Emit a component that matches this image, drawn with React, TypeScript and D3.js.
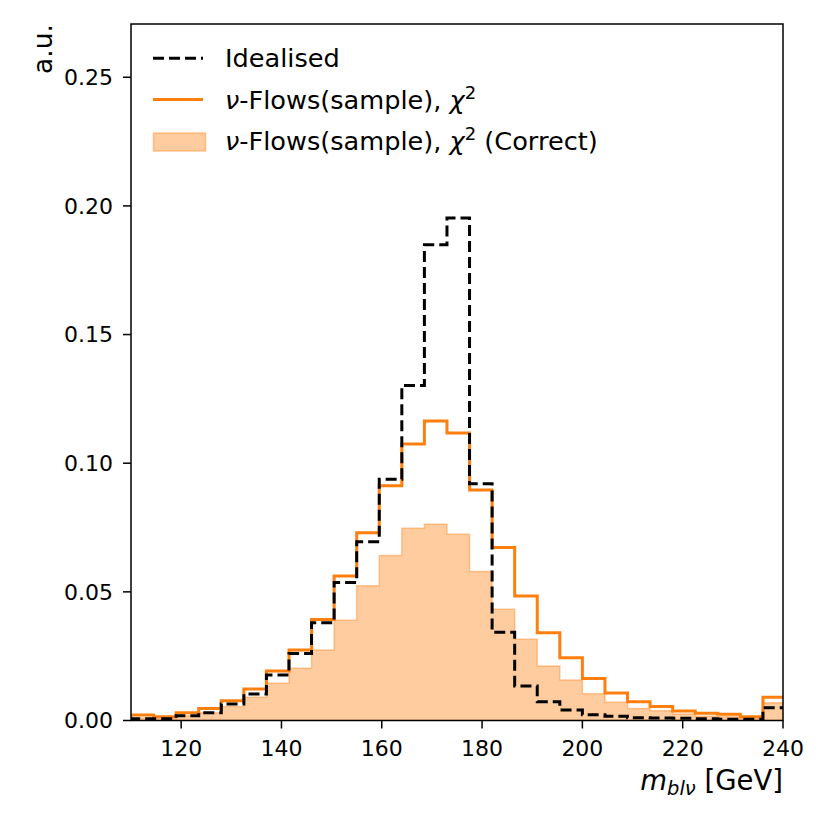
import React from "react";
import * as d3 from "d3";

const binStart = 110;
const binWidth = 4.5;
const idealised = [
  0.0007, 0.0007, 0.0018, 0.003, 0.0064, 0.0103, 0.0177, 0.026, 0.038, 0.0536,
  0.0695, 0.0938, 0.1302, 0.1849, 0.1953, 0.092, 0.0343, 0.0134, 0.0073, 0.0041,
  0.0022, 0.0017, 0.0011, 0.001, 0.0009, 0.0007, 0.0005, 0.0005, 0.005,
];
const flowsChi2 = [
  0.0021, 0.0015, 0.003, 0.0047, 0.0077, 0.0122, 0.0192, 0.0274, 0.0393, 0.0562,
  0.073, 0.0912, 0.1075, 0.1164, 0.1117, 0.0896, 0.0672, 0.0484, 0.0341, 0.0244,
  0.0163, 0.0107, 0.0073, 0.0054, 0.0037, 0.0028, 0.0024, 0.0015, 0.009,
];
const flowsChi2Correct = [
  0.001, 0.0008, 0.0018, 0.003, 0.0054, 0.009, 0.0145, 0.0203, 0.0274, 0.039,
  0.0524, 0.0641, 0.0747, 0.0763, 0.0724, 0.0579, 0.0432, 0.0316, 0.0212, 0.0157,
  0.0104, 0.0071, 0.0047, 0.0038, 0.0025, 0.0017, 0.0015, 0.001, 0.0069,
];
const xTicks = [120, 140, 160, 180, 200, 220, 240];
const yTicks = [0, 0.05, 0.1, 0.15, 0.2, 0.25];
const xDomain = [110, 240];
const yDomain = [0, 0.2707];

const ORANGE = "#ff7f0e";
const FONT = "DejaVu Sans";

function stepPoints(vals: number[]): [number, number][] {
  const pts: [number, number][] = [[binStart, 0]];
  vals.forEach((v, i) => {
    pts.push([binStart + i * binWidth, v]);
    pts.push([binStart + (i + 1) * binWidth, v]);
  });
  pts.push([binStart + vals.length * binWidth, 0]);
  return pts;
}

export default function App() {
  const L = 131, R = 783, T = 24, B = 720.5;
  const x = d3.scaleLinear().domain(xDomain).range([L, R]);
  const y = d3.scaleLinear().domain(yDomain).range([B, T]);
  const line = d3.line<[number, number]>().x((d) => x(d[0])).y((d) => y(d[1]));
  const LF = 25.6;

  return (
    <svg width={830} height={830} style={{ position: "absolute", left: 0, top: 0, background: "#fff" }} fontFamily={FONT}>
      <defs>
        <clipPath id="plotclip">
          <rect x={L} y={T} width={R - L} height={B - T} />
        </clipPath>
      </defs>
      <g clipPath="url(#plotclip)">
        <path d={line(stepPoints(flowsChi2Correct)) + "Z"} fill={ORANGE} fillOpacity={0.4} stroke={ORANGE} strokeOpacity={0.4} strokeWidth={1.5} />
        <path d={line(stepPoints(flowsChi2)) || ""} fill="none" stroke={ORANGE} strokeWidth={3} />
        <path d={line(stepPoints(idealised)) || ""} fill="none" stroke="#000" strokeWidth={3} strokeDasharray="11 5" />
      </g>
      <rect x={L} y={T} width={R - L} height={B - T} fill="none" stroke="#000" strokeWidth={1.5} />
      {xTicks.map((t) => (
        <g key={"x" + t}>
          <line x1={x(t)} x2={x(t)} y1={B} y2={B + 8} stroke="#000" strokeWidth={1.5} />
          <text x={x(t)} y={755.5} fontSize={22} textAnchor="middle">{t}</text>
        </g>
      ))}
      {yTicks.map((t) => (
        <g key={"y" + t}>
          <line x1={L - 8} x2={L} y1={y(t)} y2={y(t)} stroke="#000" strokeWidth={1.5} />
          <text x={113} y={y(t)} dy="0.36em" fontSize={22} textAnchor="end">{t.toFixed(2)}</text>
        </g>
      ))}
      <text x={R} y={790} fontSize={27.5} textAnchor="end">
        <tspan fontStyle="italic">m</tspan>
        <tspan fontStyle="italic" fontSize={19.5} dy={5}>blν</tspan>
        <tspan dy={-5}> [GeV]</tspan>
      </text>
      <text transform={`translate(52, ${T}) rotate(-90)`} fontSize={26.5} textAnchor="end">a.u.</text>
      <g>
        <line x1={153} x2={203} y1={58.3} y2={58.3} stroke="#000" strokeWidth={3} strokeDasharray="11 5" />
        <text x={225} y={67} fontSize={LF}>Idealised</text>
        <line x1={153} x2={203} y1={99.5} y2={99.5} stroke={ORANGE} strokeWidth={3} />
        <text x={225} y={108.5} fontSize={LF}>
          <tspan fontStyle="italic">ν</tspan>-Flows(sample), <tspan fontStyle="italic">χ</tspan>
          <tspan fontSize={18} dy={-10}>2</tspan>
        </text>
        <rect x={153.5} y={133} width={52} height={18} fill={ORANGE} fillOpacity={0.4} stroke={ORANGE} strokeOpacity={0.4} strokeWidth={1.5} />
        <text x={225} y={150} fontSize={LF}>
          <tspan fontStyle="italic">ν</tspan>-Flows(sample), <tspan fontStyle="italic">χ</tspan>
          <tspan fontSize={18} dy={-10}>2</tspan>
          <tspan dy={10}> (Correct)</tspan>
        </text>
      </g>
    </svg>
  );
}
